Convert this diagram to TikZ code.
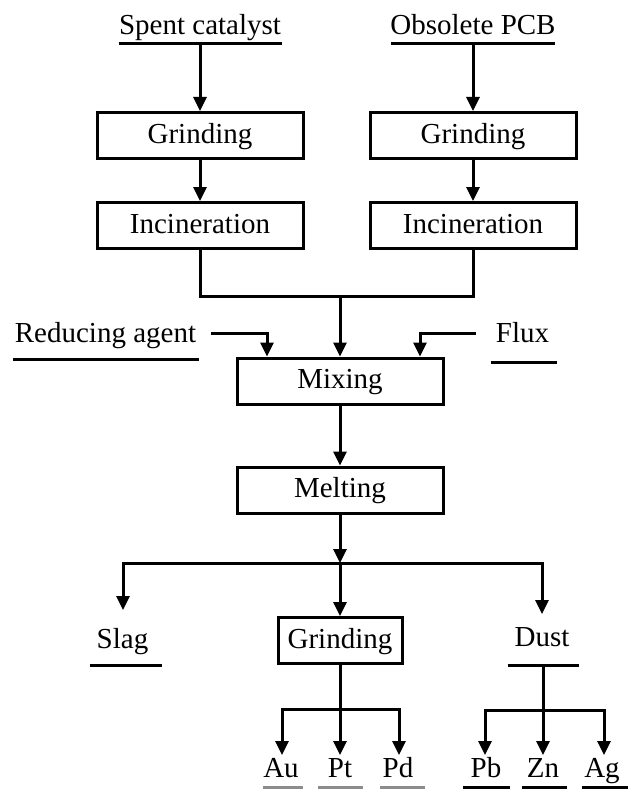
\documentclass[tikz,border=0pt]{standalone}
\usepackage{fontspec}
\setmainfont{Liberation Serif}
\usetikzlibrary{arrows.meta}
\begin{document}
\begin{tikzpicture}[x=1pt,y=-1pt,
  every node/.style={font=\fontsize{29}{34}\selectfont},
  procbox/.style={draw, line width=3pt, inner sep=0pt, minimum width=206pt, minimum height=46pt, text height=20pt, text depth=5pt},
  txt/.style={anchor=base, inner sep=0pt},
  ulinebox/.style={inner sep=0pt, outer sep=0pt, minimum height=0pt, minimum width=#1},
  uline/.style={line width=3pt},
  conn/.style={line width=3pt},
  arr/.style={line width=3pt, -{Triangle[length=14pt,width=13pt]}},
  botline/.style={line width=4pt}
]
\fill[white] (0,0) rectangle (628,789);
\useasboundingbox (0,0) rectangle (628,789);

% sources
\node[txt] (sc) at (200,35) {Spent catalyst};
\node[ulinebox=163pt] (scU) at (200,44) {};
\node[txt] (op) at (473,35) {Obsolete PCB};
\node[ulinebox=164pt] (opU) at (473,44) {};

% process boxes
\node[procbox] (g1) at (200,135.5) {Grinding};
\node[procbox] (g2) at (473,135.5) {Grinding};
\node[procbox] (i1) at (200,225.5) {Incineration};
\node[procbox] (i2) at (473,225.5) {Incineration};
\node[procbox] (mix) at (340,381) {Mixing};
\node[procbox] (melt) at (340,490) {Melting};
\node[procbox, minimum width=124pt] (g3) at (340,640.5) {Grinding};

% side inputs
\node[txt] (ra) at (105.5,342) {Reducing agent};
\node[ulinebox=186pt] (raU) at (106,359) {};
\node[txt] (fx) at (522.5,342) {Flux};
\node[ulinebox=66pt] (fxU) at (524,362) {};

% outputs
\node[txt] (sl) at (122.5,648) {Slag};
\node[ulinebox=72pt] (slU) at (126,665) {};
\node[txt] (du) at (542,646) {Dust};
\node[ulinebox=71pt] (duU) at (543,665) {};

\node[txt] (au) at (281,777) {Au};
\node[txt] (pt) at (340,777) {Pt};
\node[txt] (pd) at (398,777) {Pd};
\node[txt] (pb) at (486,777) {Pb};
\node[txt] (zn) at (543,777) {Zn};
\node[txt] (ag) at (602,777) {Ag};
\node[ulinebox=40pt] (auU) at (283,787.5) {};
\node[ulinebox=45pt] (ptU) at (340.5,787.5) {};
\node[ulinebox=45pt] (pdU) at (402.5,787.5) {};
\node[ulinebox=47pt] (pbU) at (486.5,787.5) {};
\node[ulinebox=45pt] (znU) at (544.5,787.5) {};
\node[ulinebox=46pt] (agU) at (605,787.5) {};

% coordinates
\coordinate (jm) at (340,296);
\coordinate (raS) at (211,333);
\coordinate (fxS) at (476,333);
\coordinate (mj) at (340,563);
\coordinate (slT) at (123,610);
\coordinate (duT) at (542,614);
\coordinate (gj) at (340,709);
\coordinate (auT) at (282,755);
\coordinate (ptT) at (340,755);
\coordinate (pdT) at (399,755);
\coordinate (dj) at (543,710);
\coordinate (pbT) at (485,755);
\coordinate (znT) at (543,755);
\coordinate (agT) at (604,755);

% underlines
\foreach \u in {scU,opU,raU,fxU,slU,duU}
  \draw[uline] (\u.west) -- (\u.east);
\foreach \u in {auU,ptU,pdU}
  \draw[botline, black!45] (\u.west) -- (\u.east);
\foreach \u in {pbU,znU,agU}
  \draw[botline] (\u.west) -- (\u.east);

% connectors
\draw[arr] (scU.south) -- (g1.north);
\draw[arr] (opU.south) -- (g2.north);
\draw[arr] (g1.south) -- (i1.north);
\draw[arr] (g2.south) -- (i2.north);
\draw[conn] (i1.south) |- (jm) -| (i2.south);
\draw[arr] (jm) -- (mix.north);
\draw[arr] (raS) -| ([xshift=-73pt]mix.north);
\draw[arr] (fxS) -| ([xshift=80pt]mix.north);
\draw[arr] (mix.south) -- (melt.north);
\draw[arr] (melt.south) -- (mj);
\draw[arr] (mj) -| (slT);
\draw[arr] (mj) -| (duT);
\draw[arr] (mj) -- (g3.north);
\draw[conn] (g3.south) -- (gj);
\draw[arr] (gj) -| (auT);
\draw[arr] (gj) -- (ptT);
\draw[arr] (gj) -| (pdT);
\draw[conn] (duU.south) -- (dj);
\draw[arr] (dj) -| (pbT);
\draw[arr] (dj) -- (znT);
\draw[arr] (dj) -| (agT);
\end{tikzpicture}
\end{document}
